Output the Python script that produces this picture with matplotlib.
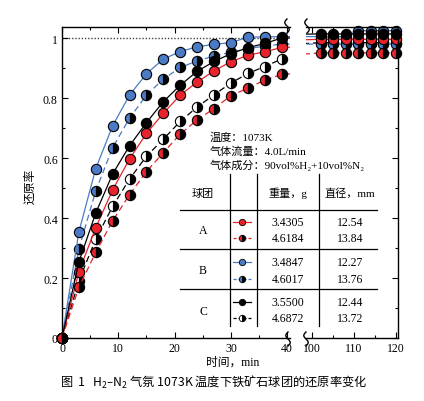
import numpy as np
import matplotlib
matplotlib.use("Agg")
import matplotlib.pyplot as plt
from matplotlib.lines import Line2D
from matplotlib.ticker import MultipleLocator

plt.rcParams['font.family'] = ['Liberation Serif', 'Noto Sans CJK SC', 'DejaVu Sans']
plt.rcParams['mathtext.default'] = 'regular'

# ---------------- data ----------------
t = [0, 3, 6, 9, 12, 15, 18, 21, 24, 27, 30, 33, 36, 39,
     102, 105, 108, 111, 114, 117, 120]

A_solid = [0, 0.221, 0.368, 0.494, 0.597, 0.682, 0.749, 0.810, 0.853, 0.891, 0.921, 0.943, 0.954, 0.969,
           0.996, 0.996, 0.996, 0.996, 0.996, 0.996, 0.996]
A_dash = [0, 0.169, 0.286, 0.391, 0.478, 0.555, 0.618, 0.680, 0.727, 0.765, 0.808, 0.833, 0.860, 0.879,
          0.951, 0.951, 0.951, 0.951, 0.951, 0.951, 0.951]
B_solid = [0, 0.354, 0.565, 0.708, 0.810, 0.881, 0.930, 0.955, 0.971, 0.979, 0.985, 1.003, 1.004, 1.005,
           1.005, 1.005, 1.005, 1.025, 1.025, 1.025, 1.025]
B_dash = [0, 0.297, 0.491, 0.635, 0.733, 0.810, 0.863, 0.902, 0.924, 0.940, 0.953, 0.965, 0.973, 0.980,
          0.980, 0.980, 0.980, 0.980, 0.980, 0.980, 0.980]
C_solid = [0, 0.254, 0.417, 0.547, 0.641, 0.718, 0.788, 0.843, 0.889, 0.922, 0.948, 0.968, 0.982, 1.000,
           1.014, 1.014, 1.014, 1.014, 1.014, 1.014, 1.014]
C_dash = [0, 0.191, 0.330, 0.439, 0.530, 0.606, 0.663, 0.722, 0.770, 0.811, 0.850, 0.882, 0.905, 0.930,
          0.985, 0.985, 0.985, 0.985, 0.985, 0.985, 0.985]

groups = ['A', 'B', 'C']
weights = [['3.4305', '4.6184'], ['3.4847', '4.6017'], ['3.5500', '4.6872']]
diameters = [['12.54', '13.84'], ['12.27', '13.76'], ['12.44', '13.72']]

RED = '#e8232b'
BLUE = '#4a7bc4'
BLK = '#000000'

# series: (values, line color, line style, face, alt face or None)
series = [
    (C_dash, BLK, 'dash', 'white', BLK),
    (B_dash, BLUE, 'dash', BLUE, BLK),
    (B_solid, BLUE, 'solid', BLUE, None),
    (A_solid, RED, 'solid', RED, None),
    (C_solid, BLK, 'solid', BLK, None),
    (A_dash, RED, 'dash', RED, BLK),
]

W, H = 424, 402
fig = plt.figure(figsize=(W / 100, H / 100), dpi=100)

def fx(x):
    return x / W

def fy(y):
    return 1 - y / H

top_px, bot_px = 28, 339
axL = fig.add_axes([fx(62), fy(bot_px), fx(290) - fx(62), fy(top_px) - fy(bot_px)])
axR = fig.add_axes([fx(306), fy(bot_px), fx(398) - fx(306), fy(top_px) - fy(bot_px)])

ylim = (0, 1.037)
for ax in (axL, axR):
    ax.set_ylim(*ylim)
    ax.set_facecolor('none')
axL.set_xlim(0, 40.5)
axR.set_xlim(98.5, 120.6)

tt = np.array(t)
for vals, col, ls, fc, fca in series:
    v = np.array(vals)
    lkw = dict(color=col, lw=0.9)
    if ls == 'dash':
        lkw['dashes'] = (5, 3)
    mkw = dict(ls='none', marker='o', ms=7.4, mec='black', mew=0.8, mfc=fc, clip_on=False)
    if fca is not None:
        mkw.update(fillstyle='left', markerfacecoloralt=fca)
    for ax, mask in ((axL, tt <= 40), (axR, tt >= 100)):
        ax.plot(tt, v, **lkw)
        ax.plot(tt[mask], v[mask], **mkw)

axL.plot([0, 40], [1, 1], ls=(0, (1.0, 1.3)), color='#444444', lw=1.0, zorder=0.5)

# spines / ticks
for ax in (axL, axR):
    for s in ax.spines.values():
        s.set_linewidth(1.0)
axL.spines['right'].set_visible(False)
axR.spines['left'].set_visible(False)

axL.xaxis.set_major_locator(MultipleLocator(10))
axL.xaxis.set_minor_locator(MultipleLocator(5))
axL.yaxis.set_major_locator(MultipleLocator(0.2))
axL.yaxis.set_minor_locator(MultipleLocator(0.1))
axL.tick_params(which='both', direction='in', top=True, right=False, labelsize=8.5, pad=3)
axL.tick_params(which='major', length=4, width=0.8)
axL.tick_params(which='minor', length=2.5, width=0.8)
axL.set_xticks([0, 10, 20, 30, 40])
axL.set_xticklabels(['0', '10', '20', '30', '40'])
axL.set_yticks([0, 0.2, 0.4, 0.6, 0.8, 1.0])
axL.set_yticklabels(['0', '0.2', '0.4', '0.6', '0.8', '1'])

axR.xaxis.set_major_locator(MultipleLocator(10))
axR.xaxis.set_minor_locator(MultipleLocator(5))
axR.yaxis.set_major_locator(MultipleLocator(0.2))
axR.yaxis.set_minor_locator(MultipleLocator(0.1))
axR.tick_params(which='both', direction='in', top=True, left=False, right=True,
                labelleft=False, labelright=False, labelsize=8.5, pad=3)
axR.tick_params(which='major', length=4, width=0.8)
axR.tick_params(which='minor', length=2.5, width=0.8)
axR.set_xticks([100, 110, 120])
axR.set_xticklabels(['100', '110', '120'])

# break marks
def squiggle(xc, yc):
    s = np.linspace(-1, 1, 40)
    xs = xc + 2.2 * np.sin(s * np.pi)
    ys = yc + 7 * s
    fig.add_artist(Line2D(fx(xs), fy(ys), color='black', lw=1.0))

squiggle(288, 340)
squiggle(306, 340)
squiggle(287, 27)
squiggle(307, 27)

# axis labels
fig.text(fx(31), fy(186), '还原率', rotation=90, ha='center', va='center', fontsize=8.5)
fig.text(fx(233), fy(363), '时间，min', ha='center', va='center', fontsize=8.5)

# annotation
ann = ['温度：1073K', '气体流量：4.0L/min', '气体成分：90vol%H₂+10vol%N₂']
for i, s in enumerate(ann):
    fig.text(fx(210), fy(138 + 13.5 * i), s, ha='left', va='center', fontsize=8)

# table lines
for yl in (210.7, 250, 290):
    fig.add_artist(Line2D([fx(180), fx(377)], [fy(yl), fy(yl)], color='black', lw=0.9))
for xl in (230, 256.7, 319):
    fig.add_artist(Line2D([fx(xl), fx(xl)], [fy(175), fy(327)], color='black', lw=0.9))

fig.text(fx(203), fy(194), '球团', ha='center', va='center', fontsize=8)
fig.text(fx(288), fy(193), '重量，g', ha='center', va='center', fontsize=8)
fig.text(fx(350), fy(193), '直径，mm', ha='center', va='center', fontsize=8)

row_c = [231, 271, 312]
row_y = [[222.7, 239], [262.7, 280], [302.7, 319.3]]
leg_styles = [
    [(RED, 'solid', RED, None), (RED, 'dash', RED, BLK)],
    [(BLUE, 'solid', BLUE, None), (BLUE, 'dash', BLUE, BLK)],
    [(BLK, 'solid', BLK, None), (BLK, 'dash', 'white', BLK)],
]
for gi, g in enumerate(groups):
    fig.text(fx(203), fy(row_c[gi]), g, ha='center', va='center', fontsize=8.5)
    for k in range(2):
        yy = row_y[gi][k]
        fig.text(fx(288), fy(yy), weights[gi][k], ha='center', va='center', fontsize=8.5)
        fig.text(fx(350), fy(yy), diameters[gi][k], ha='center', va='center', fontsize=8.5)
        col, ls, fc, fca = leg_styles[gi][k]
        lkw = dict(color=col, lw=0.9)
        if ls == 'dash':
            lkw['dashes'] = (2.5, 1.5)
        fig.add_artist(Line2D([fx(233), fx(251)], [fy(yy), fy(yy)], **lkw))
        mk = dict(marker='o', ms=4.6, mec='black', mew=0.6, mfc=fc, ls='none')
        if fca is not None:
            mk.update(fillstyle='left', markerfacecoloralt=fca)
        fig.add_artist(Line2D([fx(242)], [fy(yy)], **mk))

# caption
fig.text(fx(60), fy(382), '图  1   H$_2$–N$_2$ 气氛 1073K 温度下铁矿石球团的还原率变化',
         ha='left', va='center', fontsize=8.8, family=['Noto Sans CJK SC', 'DejaVu Sans'])

fig.savefig('out.png', dpi=100)
